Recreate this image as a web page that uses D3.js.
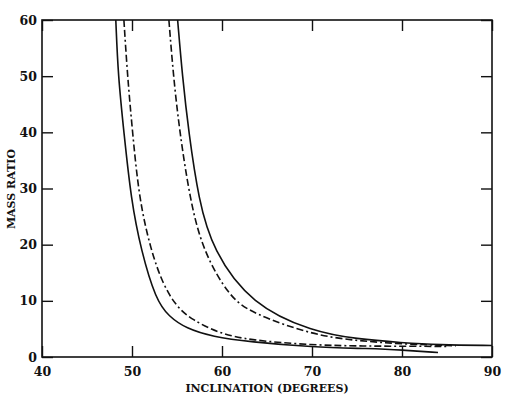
<!DOCTYPE html>
<html>
<head>
<meta charset="utf-8">
<script src="https://cdn.jsdelivr.net/npm/d3@7"></script>
<style>
  body { margin: 0; background: #fff; }
  svg text { font-family: "DejaVu Serif", "Liberation Serif", serif; font-weight: bold; fill: #111; }
</style>
</head>
<body>
<div id="chart"></div>
<script>
// inclination (deg) vs mass ratio
const leftSolid = [[48.2,60],[48.46,50],[49.1,40],[49.9,28],[51.0,19],[52.66,10.15],[54.1,7.2],[56.0,5.1],[58.97,3.6],[63.05,2.7],[70,1.75],[76.4,1.5],[80,1.25],[84,0.8]];
const leftDash = [[49.1,60],[49.5,50],[50.06,40],[50.8,28],[52.1,19],[53.4,13.1],[54.9,9.0],[56.7,6.6],[59.7,4.2],[63.05,3.0],[70,2.1],[76,1.95],[80,1.9],[85,1.9]];
const rightDash = [[54.1,60],[54.6,50],[55.3,40],[56.45,28],[57.85,19],[60.8,10.7],[63.3,7.8],[70.1,3.9],[75,2.9],[80,2.3],[86,2.0]];
const rightSolid = [[55.07,60],[55.6,50],[56.3,40],[57.4,28],[58.96,19],[63.3,9.26],[70.1,4.5],[75,3.2],[80,2.55],[84,2.15],[90,2.05]];

const xTicks = [40, 50, 60, 70, 80, 90];
const yTicks = [0, 10, 20, 30, 40, 50, 60];

const W = 509, H = 399;
const margin = {top: 20, right: 17, bottom: 42, left: 42};

const svg = d3.select("#chart").append("svg")
    .attr("width", W)
    .attr("height", H);

const x = d3.scaleLinear().domain([40, 90]).range([margin.left, W - margin.right]);
const y = d3.scaleLinear().domain([0, 60]).range([H - margin.bottom, margin.top]);

// axes (ticks point into the plot)
const axBottom = svg.append("g")
    .attr("transform", "translate(0," + y(0) + ")")
    .call(d3.axisBottom(x).tickValues(xTicks).tickSize(-11).tickPadding(10).tickFormat(d3.format("d")));
const axLeft = svg.append("g")
    .attr("transform", "translate(" + x(40) + ",0)")
    .call(d3.axisLeft(y).tickValues(yTicks).tickSize(-11).tickPadding(5).tickFormat(d3.format("d")));
const axTop = svg.append("g")
    .attr("transform", "translate(0," + y(60) + ")")
    .call(d3.axisTop(x).tickValues(xTicks).tickSize(-11).tickFormat(""));
const axRight = svg.append("g")
    .attr("transform", "translate(" + x(90) + ",0)")
    .call(d3.axisRight(y).tickValues(yTicks).tickSize(-11).tickFormat(""));

[axBottom, axLeft, axTop, axRight].forEach(function (g) {
    g.select(".domain").remove();
    g.selectAll(".tick line").attr("stroke", "#111").attr("stroke-width", 1.4);
    g.selectAll(".tick text").attr("fill", "#111").style("font-size", "12.5px");
});

svg.append("rect")
    .attr("x", x(40)).attr("y", y(60))
    .attr("width", x(90) - x(40)).attr("height", y(0) - y(60))
    .attr("fill", "none").attr("stroke", "#111").attr("stroke-width", 1.6);

const line = d3.line()
    .x(d => x(d[0]))
    .y(d => y(d[1]))
    .curve(d3.curveBasis);

const series = [
    {data: leftSolid, dash: null},
    {data: leftDash, dash: "7,3,7,3,2,3"},
    {data: rightDash, dash: "7,3,7,3,2,3"},
    {data: rightSolid, dash: null}
];

svg.append("g").selectAll("path")
    .data(series)
    .enter().append("path")
    .attr("d", d => line(d.data))
    .attr("fill", "none")
    .attr("stroke", "#111")
    .attr("stroke-width", 1.6)
    .attr("stroke-dasharray", d => d.dash);

// axis titles
svg.append("text")
    .attr("x", (x(40) + x(90)) / 2)
    .attr("y", 392)
    .attr("text-anchor", "middle")
    .style("font-size", "11px")
    .text("INCLINATION (DEGREES)");

svg.append("text")
    .attr("transform", "translate(15," + 189 + ") rotate(-90)")
    .attr("text-anchor", "middle")
    .style("font-size", "11px")
    .text("MASS RATIO");
</script>
</body>
</html>
